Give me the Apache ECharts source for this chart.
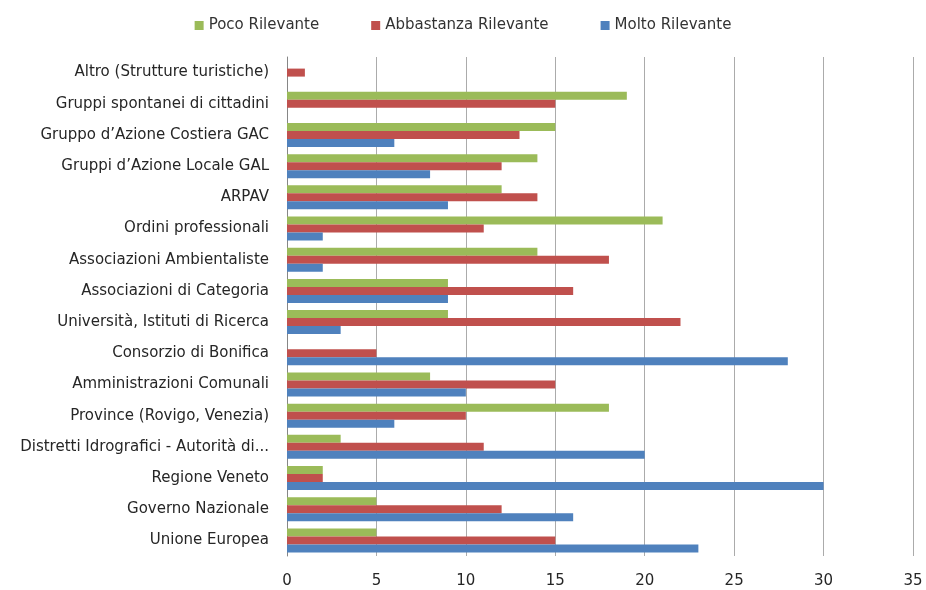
<!DOCTYPE html>
<html>
<head>
<meta charset="utf-8">
<script src="https://cdn.jsdelivr.net/npm/echarts@6/dist/echarts.min.js"></script>
<style>
  html, body { margin: 0; padding: 0; background: #fff; }
  #chart { width: 926px; height: 590px; }
</style>
</head>
<body>
<div id="chart"></div>
<script>
// categories from bottom to top
const categories = [
  'Unione Europea',
  'Governo Nazionale',
  'Regione Veneto',
  'Distretti Idrografici - Autorità di...',
  'Province (Rovigo, Venezia)',
  'Amministrazioni Comunali',
  'Consorzio di Bonifica',
  'Università, Istituti di Ricerca',
  'Associazioni di Categoria',
  'Associazioni Ambientaliste',
  'Ordini professionali',
  'ARPAV',
  'Gruppi d\u2019Azione Locale GAL',
  'Gruppo d\u2019Azione Costiera GAC',
  'Gruppi spontanei di cittadini',
  'Altro (Strutture turistiche)'
];
const molto = [23, 16, 30, 20, 6, 10, 28, 3, 9, 2, 2, 9, 8, 6, 0, 0];
const abbastanza = [15, 12, 2, 11, 10, 15, 5, 22, 16, 18, 11, 14, 12, 13, 15, 1];
const poco = [5, 5, 2, 3, 18, 8, 0, 9, 9, 14, 21, 12, 14, 15, 19, 0];

const colors = { molto: '#4F81BD', abbastanza: '#C0504D', poco: '#9BBB59' };
const font = 'DejaVu Sans';

let myChart = echarts.init(document.getElementById('chart'));

function makeSeries(name, data, color) {
  return {
    name,
    type: 'bar',
    data,
    barWidth: 8,
    barGap: '0%',
    itemStyle: { color },
    emphasis: { disabled: true }
  };
}

let option = {
  animation: false,
  legend: {
    data: ['Poco Rilevante', 'Abbastanza Rilevante', 'Molto Rilevante'],
    top: 13,
    left: 'center',
    itemWidth: 9,
    itemHeight: 9,
    itemGap: 52,
    icon: 'rect',
    textStyle: { fontFamily: font, fontSize: 15, color: '#333' }
  },
  grid: { left: 287, right: 13, top: 57, bottom: 34 },
  xAxis: {
    type: 'value',
    min: 0,
    max: 35,
    interval: 5,
    axisLine: { show: false },
    axisTick: { show: false },
    splitLine: { show: true, lineStyle: { color: '#ABABAB', width: 1 } },
    axisLabel: { margin: 18, fontFamily: font, fontSize: 15, color: '#262626' }
  },
  yAxis: {
    type: 'category',
    data: categories,
    axisLine: { show: true, lineStyle: { color: '#868686' } },
    axisTick: { show: false },
    axisLabel: { margin: 18, fontFamily: font, fontSize: 15, color: '#262626' }
  },
  // ordine delle serie: la prima sta in alto nel gruppo
  series: [
    makeSeries('Poco Rilevante', poco, colors.poco),
    makeSeries('Abbastanza Rilevante', abbastanza, colors.abbastanza),
    makeSeries('Molto Rilevante', molto, colors.molto)
  ]
};
myChart.setOption(option);
</script>
</body>
</html>
